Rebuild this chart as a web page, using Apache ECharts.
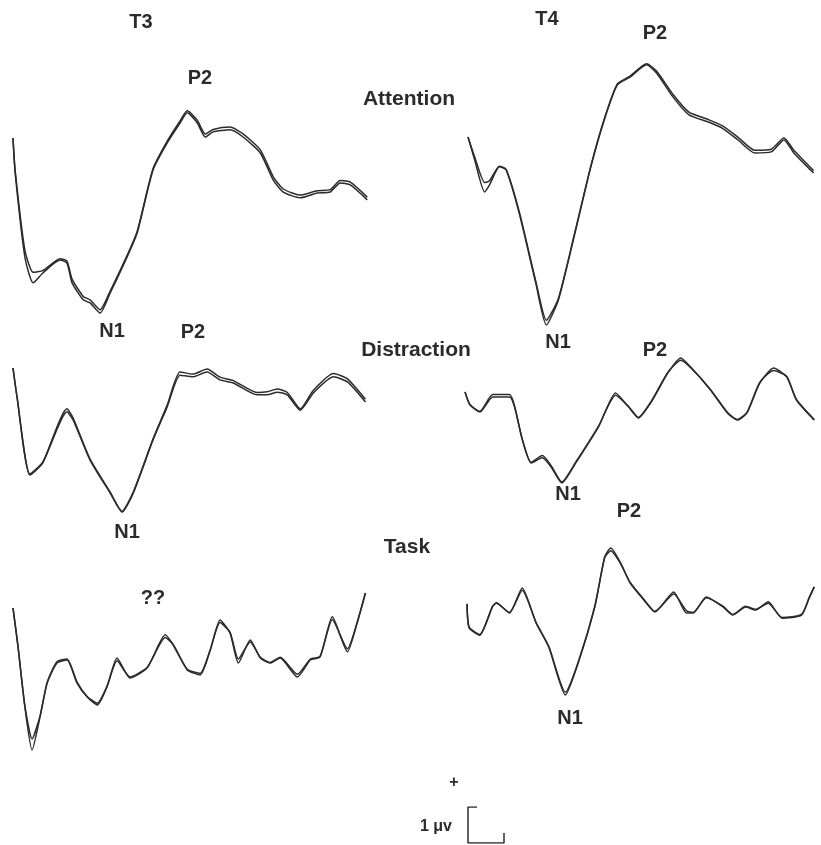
<!DOCTYPE html>
<html>
<head>
<meta charset="utf-8">
<script src="https://cdn.jsdelivr.net/npm/echarts@6/dist/echarts.min.js"></script>
<style>
  html, body { margin: 0; padding: 0; background: #fff; }
  #chart { width: 821px; height: 845px; }
</style>
</head>
<body>
<div id="chart"></div>
<script>
// Grand-average ERPs (µV, positive up) for T3 / T4 in three conditions.
// Two traces per panel; time in ms after stimulus onset.

// T3 - Attention
const t3AttTime = [0, 6, 33, 56, 83, 131, 150, 164, 195, 214, 242, 270, 317, 345, 389, 428, 464, 484, 512, 534, 556, 603, 639, 687, 723, 751, 798, 845, 881, 909, 937, 984];
const t3AttA = [0, -1.03, -3.5, -4.26, -3.97, -3.59, -3.68, -4.26, -4.76, -4.85, -5.15, -4.56, -3.5, -2.79, -0.94, -0.15, 0.44, 0.74, 0.44, 0.03, 0.18, 0.24, 0.03, -0.44, -1.24, -1.59, -1.76, -1.62, -1.59, -1.32, -1.38, -1.82];
const t3AttB = [0, -0.95, -3.3, -3.95, -3.9, -3.55, -3.62, -4.15, -4.66, -4.76, -5.05, -4.5, -3.45, -2.74, -0.9, -0.1, 0.5, 0.8, 0.52, 0.12, 0.25, 0.32, 0.12, -0.35, -1.14, -1.5, -1.68, -1.55, -1.52, -1.25, -1.3, -1.74];

// T4 - Attention
const t4AttTime = [0, 19, 47, 61, 89, 108, 145, 192, 222, 256, 303, 348, 386, 423, 459, 506, 534, 581, 626, 681, 720, 765, 812, 859, 895, 923, 979];
const t4AttA = [0.09, -0.59, -1.53, -1.32, -0.79, -0.88, -2.15, -4.21, -5.44, -4.71, -2.74, -0.79, 0.59, 1.62, 1.85, 2.21, 1.97, 1.26, 0.74, 0.53, 0.35, 0, -0.38, -0.35, 0, -0.38, -0.97];
const t4AttB = [0.09, -0.5, -1.25, -1.2, -0.77, -0.86, -2.1, -4.15, -5.3, -4.66, -2.7, -0.76, 0.62, 1.65, 1.88, 2.24, 2.03, 1.34, 0.82, 0.6, 0.42, 0.08, -0.3, -0.27, 0.06, -0.3, -0.9];

// T3 - Distraction
const t3DisTime = [0, 11, 47, 83, 150, 167, 214, 270, 303, 334, 389, 428, 464, 500, 539, 575, 612, 678, 706, 734, 762, 798, 834, 890, 929, 979];
const t3DisA = [0, -0.85, -3.15, -2.79, -1.29, -1.53, -2.71, -3.68, -4.24, -3.68, -2.12, -1.15, -0.21, -0.26, -0.12, -0.35, -0.44, -0.79, -0.79, -0.71, -0.79, -1.24, -0.74, -0.26, -0.41, -1.0];
const t3DisB = [0, -0.83, -3.12, -2.76, -1.2, -1.47, -2.68, -3.65, -4.21, -3.65, -2.08, -1.1, -0.12, -0.18, -0.03, -0.27, -0.37, -0.72, -0.7, -0.62, -0.72, -1.2, -0.66, -0.16, -0.32, -0.92];

// T4 - Distraction
const t4DisTime = [0, 14, 42, 78, 125, 139, 161, 186, 217, 242, 272, 311, 375, 423, 459, 487, 523, 570, 606, 634, 689, 737, 765, 792, 828, 867, 904, 931, 981];
const t4DisA = [0.15, -0.24, -0.44, 0, 0, -0.29, -1.26, -1.94, -1.79, -2.06, -2.53, -1.94, -0.88, 0.12, -0.29, -0.62, -0.15, 0.71, 1.15, 0.88, 0.21, -0.47, -0.68, -0.47, 0.41, 0.85, 0.59, -0.09, -0.68];
const t4DisB = [0.15, -0.22, -0.42, 0.07, 0.07, -0.25, -1.24, -1.92, -1.72, -2.02, -2.5, -1.92, -0.86, 0.05, -0.27, -0.6, -0.13, 0.73, 1.08, 0.86, 0.23, -0.45, -0.66, -0.45, 0.43, 0.78, 0.6, -0.07, -0.66];

// T3 - Task
const t3TaskTime = [0, 14, 33, 53, 75, 95, 122, 150, 178, 206, 234, 261, 289, 325, 373, 423, 445, 484, 520, 548, 575, 603, 626, 659, 687, 714, 742, 790, 826, 853, 887, 929, 956, 979];
const t3TaskA = [0, -1.15, -2.91, -4.18, -3.21, -2.21, -1.62, -1.53, -2.21, -2.62, -2.85, -2.32, -1.47, -2.06, -1.76, -0.79, -1.09, -1.82, -1.97, -1.24, -0.35, -0.74, -1.62, -0.94, -1.47, -1.62, -1.47, -2.03, -1.53, -1.44, -0.26, -1.29, -0.44, 0.44];
const t3TaskB = [0, -1.13, -2.88, -3.85, -3.18, -2.18, -1.58, -1.5, -2.18, -2.6, -2.8, -2.3, -1.55, -2.03, -1.74, -0.87, -1.07, -1.8, -1.92, -1.22, -0.43, -0.72, -1.5, -1.0, -1.45, -1.6, -1.45, -1.95, -1.5, -1.42, -0.34, -1.2, -0.42, 0.44];

// T4 - Task
const t4TaskTime = [0, 6, 36, 72, 83, 120, 156, 195, 231, 278, 314, 361, 389, 406, 434, 461, 500, 531, 584, 620, 639, 676, 723, 751, 787, 815, 851, 890, 945, 967, 981];
const t4TaskA = [0.18, -0.53, -0.74, 0.09, 0.21, -0.09, 0.65, -0.38, -1.09, -2.5, -1.56, 0.09, 1.56, 1.82, 1.38, 0.79, 0.29, -0.06, 0.53, -0.09, -0.09, 0.38, 0.09, -0.15, 0.09, 0, 0.24, -0.24, -0.15, 0.38, 0.68];
const t4TaskB = [0.18, -0.5, -0.72, 0.11, 0.2, -0.07, 0.58, -0.36, -1.07, -2.42, -1.54, 0.11, 1.54, 1.74, 1.36, 0.81, 0.31, -0.04, 0.47, -0.02, -0.07, 0.36, 0.11, -0.13, 0.11, 0.02, 0.2, -0.22, -0.13, 0.36, 0.68];

// Calibration bar: 1 µV by 100 ms
const calTime = [25, 0, 0, 100, 100];
const calAmp = [1, 1, 0, 0, 0.28];

const INK = '#2b2b2b';
const PX_PER_MS = 0.36;
const PX_PER_UV = 34;
const Y_MIN = -6, Y_MAX = 4;

// panel placement: left edge and pixel row of 0 µV
const panels = [
  { time: t3AttTime,  a: t3AttA,  b: t3AttB,  left: 13,  zeroY: 138 },
  { time: t4AttTime,  a: t4AttA,  b: t4AttB,  left: 468, zeroY: 140 },
  { time: t3DisTime,  a: t3DisA,  b: t3DisB,  left: 13,  zeroY: 368 },
  { time: t4DisTime,  a: t4DisA,  b: t4DisB,  left: 465, zeroY: 397 },
  { time: t3TaskTime, a: t3TaskA, b: t3TaskB, left: 13,  zeroY: 608 },
  { time: t4TaskTime, a: t4TaskA, b: t4TaskB, left: 467, zeroY: 610 }
];

const zip = (xs, ys) => xs.map((x, i) => [x, ys[i]]);

const grid = [], xAxis = [], yAxis = [], series = [];
panels.forEach((p, i) => {
  grid.push({
    left: p.left,
    top: p.zeroY - Y_MAX * PX_PER_UV,
    width: 1000 * PX_PER_MS,
    height: (Y_MAX - Y_MIN) * PX_PER_UV
  });
  xAxis.push({ type: 'value', gridIndex: i, min: 0, max: 1000, show: false });
  yAxis.push({ type: 'value', gridIndex: i, min: Y_MIN, max: Y_MAX, show: false });
  [p.a, p.b].forEach(vals => {
    series.push({
      type: 'line',
      xAxisIndex: i,
      yAxisIndex: i,
      data: zip(p.time, vals),
      smooth: 0.2,
      showSymbol: false,
      silent: true,
      lineStyle: { color: INK, width: 1.5 }
    });
  });
});

// calibration bar panel
grid.push({ left: 468, top: 807, width: 100 * PX_PER_MS, height: 36 });
xAxis.push({ type: 'value', gridIndex: 6, min: 0, max: 100, show: false });
yAxis.push({ type: 'value', gridIndex: 6, min: 0, max: 1, show: false });
series.push({
  type: 'line',
  xAxisIndex: 6,
  yAxisIndex: 6,
  data: zip(calTime, calAmp),
  showSymbol: false,
  silent: true,
  lineStyle: { color: INK, width: 1.5 }
});

const FONT = '"Liberation Sans", Arial, sans-serif';
const label = (text, x, y, size) => ({
  type: 'text',
  x: x, y: y,
  style: {
    text: text,
    fill: INK,
    font: 'bold ' + (size || 20) + 'px ' + FONT,
    textAlign: 'center',
    textVerticalAlign: 'middle'
  }
});

const texts = [
  label('T3', 141, 22),
  label('P2', 200, 78),
  label('Attention', 409, 99, 21),
  label('T4', 547, 19),
  label('P2', 655, 33),
  label('N1', 112, 331),
  label('P2', 193, 332),
  label('Distraction', 416, 350, 21),
  label('N1', 558, 342),
  label('P2', 655, 350),
  label('N1', 127, 532),
  label('N1', 568, 494),
  label('P2', 629, 511),
  label('Task', 407, 547, 21),
  label('??', 153, 598),
  label('N1', 570, 718),
  label('+', 454, 783, 16),
  label('1 \u03bcv', 436, 827, 16)
];

const chart = echarts.init(document.getElementById('chart'), null, { renderer: 'canvas' });
chart.setOption({
  animation: false,
  backgroundColor: '#fff',
  grid: grid,
  xAxis: xAxis,
  yAxis: yAxis,
  series: series,
  graphic: texts
});
</script>
</body>
</html>
